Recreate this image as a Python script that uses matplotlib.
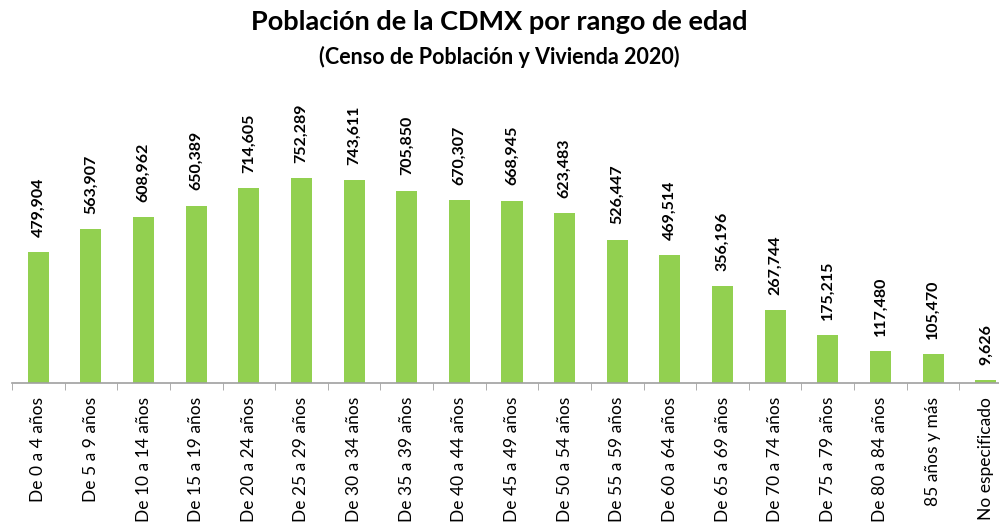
import matplotlib.pyplot as plt
import numpy as np

plt.rcParams['font.family'] = ['Lato', 'DejaVu Sans']

categorias = ["De 0 a 4 años", "De 5 a 9 años", "De 10 a 14 años", "De 15 a 19 años",
              "De 20 a 24 años", "De 25 a 29 años", "De 30 a 34 años", "De 35 a 39 años",
              "De 40 a 44 años", "De 45 a 49 años", "De 50 a 54 años", "De 55 a 59 años",
              "De 60 a 64 años", "De 65 a 69 años", "De 70 a 74 años", "De 75 a 79 años",
              "De 80 a 84 años", "85 años y más", "No especificado"]
poblacion = [479904, 563907, 608962, 650389, 714605, 752289, 743611, 705850, 670307,
             668945, 623483, 526447, 469514, 356196, 267744, 175215, 117480, 105470, 9626]

fig = plt.figure(figsize=(9.99, 5.31), dpi=100)
ax = fig.add_axes([12 / 999, 148 / 531, 1000 / 999, 283 / 531])

x = np.arange(len(categorias))
barras = ax.bar(x, poblacion, width=0.4, color="#92D050")
for xi, v in zip(x, poblacion):
    ax.annotate(f"{v:,}", (xi, v), xytext=(0, 11), textcoords="offset points",
                rotation=90, ha="center", va="bottom", fontsize=11.5, fontweight="bold")

ax.set_xlim(-0.5, len(categorias) - 0.5)
ax.set_ylim(0, 752289 * 283 / 205)
ax.set_xticks(x)
ax.set_xticklabels(categorias, rotation=90, fontsize=12.5, va="top")
ax.set_xticks(np.arange(len(categorias) + 1) - 0.5, minor=True)
ax.tick_params(axis="x", which="major", length=0, pad=10)
ax.tick_params(axis="x", which="minor", length=5, color="#a0a0a0")
ax.set_yticks([])
for s in ["top", "right", "left"]:
    ax.spines[s].set_visible(False)
ax.spines["bottom"].set_color("#a0a0a0")
ax.spines["bottom"].set_linewidth(1.2)

fig.text(0.5, 1 - 22 / 531, "Población de la CDMX por rango de edad", ha="center", va="center",
         fontsize=19.5, fontweight="bold")
fig.text(0.5, 1 - 57 / 531, "(Censo de Población y Vivienda 2020)", ha="center", va="center",
         fontsize=15.5, fontweight="bold")

fig.savefig("out.png", dpi=100)
